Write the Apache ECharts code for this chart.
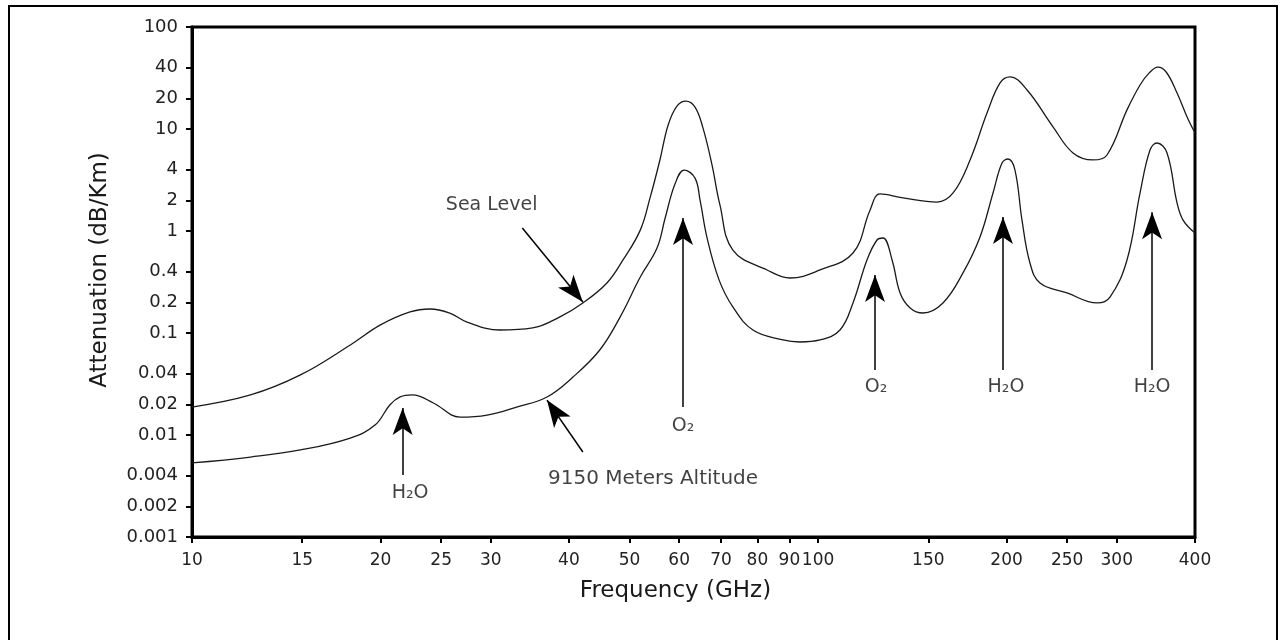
<!DOCTYPE html>
<html><head><meta charset="utf-8">
<script src="https://cdn.jsdelivr.net/npm/echarts@6/dist/echarts.min.js"></script>
<style>html,body{margin:0;padding:0;background:#fff}#c{width:1285px;height:640px}</style>
</head><body><div id="c"></div>
<script>
// ---- tick values / labels ----
const xTickValues = [10,15,20,25,30,40,50,60,70,80,90,100,150,200,250,300,400];
const xTickLabels = ['10','15','20','25','30','40','50','60','70','80','90','100','150','200','250','300','400'];
const yTickValues = [0.001,0.002,0.004,0.01,0.02,0.04,0.1,0.2,0.4,1,2,4,10,20,40,100];
const yTickLabels = ['0.001','0.002','0.004','0.01','0.02','0.04','0.1','0.2','0.4','1','2','4','10','20','40','100'];

// ---- Sea Level curve (GHz, dB/km) ----
const seaFreq = [10,12.4,14.9,17.9,20.0,22.3,24.0,25.8,27.5,31.0,35.0,38.7,42.1,46.0,48.8,52.0,53.9,55.9,57.6,59.5,61.5,63.6,65.5,67.7,69.7,73.1,82.9,90.2,100.7,113.7,121.1,125.6,136.7,154.9,164.3,174.9,186.2,195.3,202.6,215.7,237.3,255.4,274.9,289.4,311.5,326.8,338.0,349.0,360.0,374.5,388.5,400];
const seaAtten = [0.0188,0.0247,0.0388,0.0763,0.120,0.161,0.172,0.157,0.128,0.107,0.112,0.144,0.197,0.309,0.520,1.02,2.11,4.97,10.9,16.8,18.8,16.4,10.2,4.44,1.80,0.651,0.415,0.346,0.415,0.609,1.61,2.31,2.11,1.92,2.36,4.97,14.4,28.3,32.4,24.1,10.5,5.82,4.97,5.56,15.4,27.0,35.5,40.5,36.0,22.5,13.1,9.14];

// ---- 9150 m altitude curve (GHz, dB/km) ----
const altFreq = [10,12.4,14.9,17.9,19.6,20.7,21.5,22.5,24.3,26.8,29.6,33.0,36.9,40.6,44.8,48.3,52.0,55.3,57.0,59.1,61.1,63.6,64.8,66.5,69.5,73.1,78.7,87.9,93.6,100.7,108.4,113.7,119.7,124.2,127.0,131.3,135.2,140.3,147.1,158.3,170.4,181.4,190.3,196.7,201.1,206.3,211.7,218.0,226.2,249.8,279.0,292.6,311.5,326.8,339.0,347.8,360.9,374.5,382.8,400];
const altAtten = [0.00532,0.00608,0.00713,0.00934,0.0125,0.0197,0.0236,0.0247,0.0206,0.0150,0.0157,0.0188,0.0236,0.0370,0.0681,0.144,0.354,0.68,1.35,2.9,3.96,3.3,2.0,0.85,0.33,0.180,0.107,0.0854,0.0816,0.0854,0.107,0.197,0.520,0.816,0.854,0.520,0.247,0.176,0.157,0.197,0.388,0.873,2.36,4.64,5.08,3.96,1.28,0.486,0.309,0.247,0.197,0.225,0.520,2.36,6.22,7.29,5.82,1.88,1.28,0.956];

// ---- annotation arrows: tail [GHz, dB/km] -> tip [GHz, dB/km] ----
const arrowTail = [[33.7,1.07],[42.1,0.00681],[21.7,0.00405],[60.85,0.0188],[123.3,0.0434],[197.4,0.0434],[341.6,0.0434]];
const arrowHead = [[42.1,0.201],[36.9,0.0220],[21.7,0.0184],[60.85,1.34],[123.3,0.370],[197.4,1.37],[341.6,1.53]];

// ---- annotation texts ----
const noteText = ['Sea Level','9150 Meters Altitude','H\u2082O','O\u2082','O\u2082','H\u2082O','H\u2082O'];
const noteFreq = [30.1,54.5,22.3,60.85,123.8,199.6,341.6];
const noteAtten = [1.80,0.00375,0.0027,0.01226,0.0296,0.0296,0.0296];

const FONT = 'DejaVu Sans';
const lg = v => Math.log10(v);
function labelFor(v, vals, labs) {
  let best = 0;
  for (let i = 1; i < vals.length; i++) {
    if (Math.abs(lg(vals[i]) - v) < Math.abs(lg(vals[best]) - v)) best = i;
  }
  return labs[best];
}

const chart = echarts.init(document.getElementById('c'), null, {renderer: 'canvas'});
chart.setOption({
  animation: false,
  backgroundColor: '#fff',
  grid: {left: 192, right: 90, top: 27, bottom: 103, show: true, borderColor: '#000', borderWidth: 3, backgroundColor: 'transparent'},
  graphic: [{
    type: 'rect', silent: true, z: -10,
    shape: {x: 9, y: 6, width: 1268, height: 660},
    style: {fill: 'none', stroke: '#000', lineWidth: 2}
  }],
  xAxis: {
    type: 'value', min: lg(10), max: lg(400),
    axisLine: {show: true, onZero: false, lineStyle: {color: '#000', width: 3}},
    axisTick: {show: true, customValues: xTickValues.map(lg), length: 6, lineStyle: {color: '#000', width: 2}},
    axisLabel: {customValues: xTickValues.map(lg), formatter: v => labelFor(v, xTickValues, xTickLabels),
      margin: 15, fontFamily: FONT, fontSize: 17, color: '#222'},
    splitLine: {show: false},
    name: 'Frequency (GHz)', nameLocation: 'middle', nameGap: 43,
    nameTextStyle: {fontFamily: FONT, fontSize: 23, color: '#1a1a1a', padding: [0, 36, 0, 0]}
  },
  yAxis: {
    type: 'value', min: -3, max: 2,
    axisLine: {show: true, onZero: false, lineStyle: {color: '#000', width: 3}},
    axisTick: {show: true, customValues: yTickValues.map(lg), length: 6, lineStyle: {color: '#000', width: 2}},
    axisLabel: {customValues: yTickValues.map(lg), formatter: v => labelFor(v, yTickValues, yTickLabels),
      margin: 14, fontFamily: FONT, fontSize: 18, color: '#222'},
    splitLine: {show: false},
    name: 'Attenuation (dB/Km)', nameLocation: 'middle', nameGap: 80,
    nameTextStyle: {fontFamily: FONT, fontSize: 23, color: '#1a1a1a', padding: [0, 0, 0, 24]}
  },
  series: [
    {
      name: 'Sea Level', type: 'line', symbol: 'none', smooth: 0.4,
      data: seaFreq.map((f, i) => [lg(f), lg(seaAtten[i])]),
      lineStyle: {color: '#1a1a1a', width: 1.3},
      markLine: {
        silent: true, symbol: ['none', 'arrow'], symbolSize: [15, 27],
        lineStyle: {color: '#000', width: 1.5, type: 'solid'},
        label: {show: false},
        emphasis: {disabled: true},
        data: arrowTail.map((t, i) => [
          {coord: [lg(t[0]), lg(t[1])]},
          {coord: [lg(arrowHead[i][0]), lg(arrowHead[i][1])]}
        ])
      }
    },
    {
      name: '9150 Meters Altitude', type: 'line', symbol: 'none', smooth: 0.4,
      data: altFreq.map((f, i) => [lg(f), lg(altAtten[i])]),
      lineStyle: {color: '#1a1a1a', width: 1.3}
    },
    {
      name: 'notes', type: 'scatter', symbolSize: 0, silent: true,
      data: noteFreq.map((f, i) => ({
        value: [lg(f), lg(noteAtten[i])],
        label: i === 1 ? {fontSize: 20} : {}
      })),
      label: {show: true, position: 'inside', formatter: p => noteText[p.dataIndex],
        fontFamily: FONT, fontSize: 19, color: '#111'},
      labelLayout: {hideOverlap: false}
    }
  ]
});
</script></body></html>
